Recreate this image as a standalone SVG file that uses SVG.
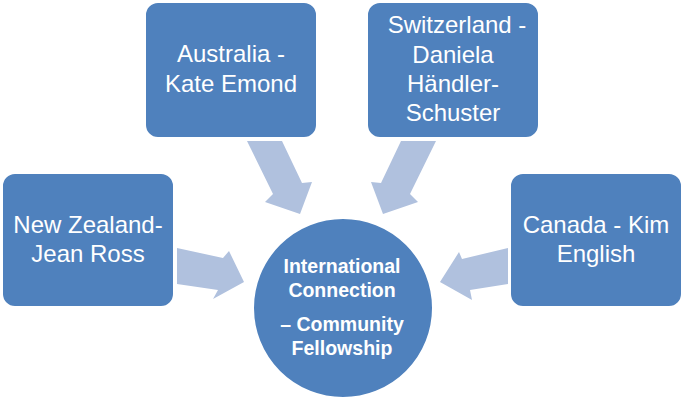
<svg xmlns="http://www.w3.org/2000/svg" width="683" height="401" viewBox="0 0 683 401">
<style>
.box{fill:#4F81BD;stroke:#FFFFFF;stroke-width:2}
.arr{fill:#B0C1DE;stroke:none}
.t{font-family:"Liberation Sans",Arial,sans-serif;font-size:24px;fill:#FFFFFF;text-anchor:middle}
.c{font-family:"Liberation Sans",Arial,sans-serif;font-size:19.5px;font-weight:bold;fill:#FFFFFF;text-anchor:middle}
</style>
<rect width="683" height="401" fill="#FFFFFF"/>
<g id="connectors">
<polygon class="arr" points="247,141 282,141 302,183 312,182 300,214 265,202 273,194"/>
<polygon class="arr" points="436,141 401,141 381,183 371,182 383,214 418,202 410,194"/>
<polygon class="arr" points="177,248 223,258 229,251 244,282 213,299 218,290 177,284"/>
<polygon class="arr" points="508,248 462,259 459,252 440,282 472,300 470,290 508,284"/>
</g>
<g id="australia">
<rect class="box" x="145" y="2" width="172" height="136" rx="13"/>
<text class="t" x="231" y="62">Australia -</text>
<text class="t" x="231" y="92">Kate Emond</text>
</g>
<g id="switzerland">
<rect class="box" x="367" y="2" width="172" height="136" rx="13"/>
<text class="t" x="457" y="33">Switzerland -</text>
<text class="t" x="453" y="63">Daniela</text>
<text class="t" x="453" y="92">Händler-</text>
<text class="t" x="453" y="121">Schuster</text>
</g>
<g id="newzealand">
<rect class="box" x="2" y="173" width="172" height="134" rx="13"/>
<text class="t" x="88" y="233">New Zealand-</text>
<text class="t" x="88" y="262">Jean Ross</text>
</g>
<g id="canada">
<rect class="box" x="510" y="173" width="172" height="134" rx="13"/>
<text class="t" x="596" y="233">Canada - Kim</text>
<text class="t" x="596" y="262">English</text>
</g>
<g id="center">
<circle class="box" cx="343" cy="308" r="90"/>
<text class="c" x="342" y="273">International</text>
<text class="c" x="342" y="297">Connection</text>
<text class="c" x="342" y="331">– Community</text>
<text class="c" x="342" y="355">Fellowship</text>
</g>
</svg>
